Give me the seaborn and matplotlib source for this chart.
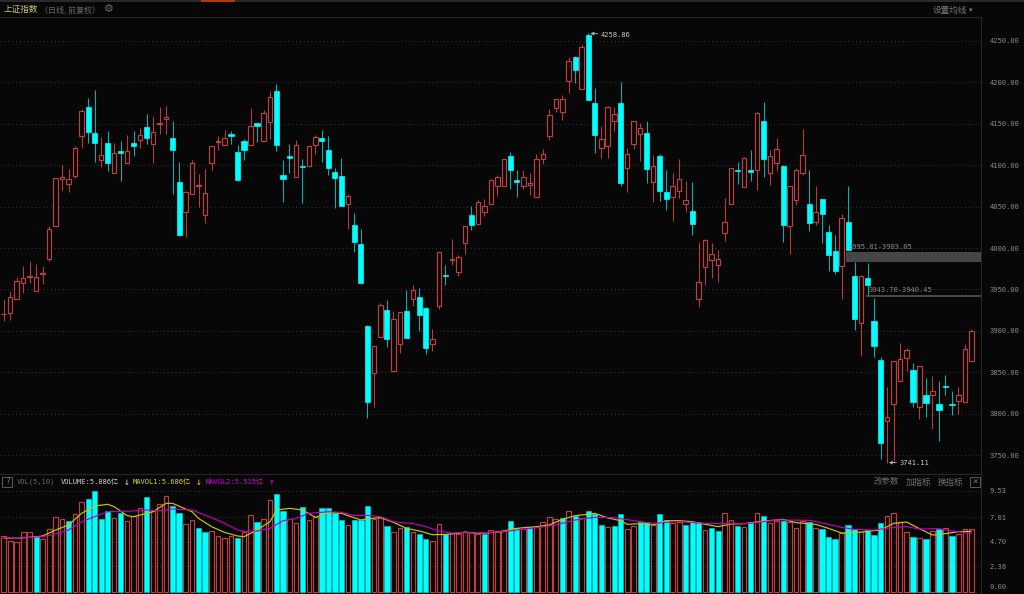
import numpy as np
import pandas as pd
import seaborn as sns
import matplotlib.pyplot as plt
from matplotlib.patches import Rectangle
from matplotlib.transforms import ScaledTranslation

# Daily candles
opens = [3920, 3921.4, 3938, 3958, 3965, 3948, 3968.5, 3987, 4027, 4083,
         4077.5, 4087, 4135, 4170, 4139, 4106, 4127, 4090.4, 4116.5, 4103,
         4126.6, 4130, 4145.5, 4125.4, 4150, 4156, 4132.6, 4079.5, 4043.4, 4064.7,
         4075, 4040, 4103, 4128, 4124, 4137.4, 4116, 4129, 4123.8, 4151,
         4129, 4152, 4189.7, 4088, 4110.5, 4086, 4099.5, 4099, 4123.8, 4133,
         4117.7, 4092, 4086.3, 4053, 4028, 4004.4, 3905.4, 3849.5, 3892.6, 3925,
         3852, 3883.7, 3924.3, 3939, 3941, 3927.6, 3883.7, 3929.6, 3968, 3985.5,
         3970.6, 4006.4, 4039.5, 4029.5, 4043, 4053, 4075.4, 4074.6, 4111.3, 4082,
         4074.6, 4076, 4061.3, 4107.7, 4135.5, 4169, 4164, 4201.6, 4230, 4192,
         4256.9, 4174.6, 4120.6, 4123, 4152.8, 4174.6, 4096.4, 4126, 4137.5, 4139,
         4079.9, 4111, 4067.8, 4061.3, 4069, 4053, 4045, 3938.8, 3977.7, 3985,
         3979.7, 4017.9, 4052.8, 4094.2, 4073.7, 4094, 4093.8, 4153.6, 4090, 4102.6,
         4099, 4026.3, 4057.6, 4090, 4053.6, 4031, 4059, 4019.5, 3996.6, 3978,
         4031.5, 3965.8, 3909.4, 3963.4, 3911.8, 3865, 3791, 3811.6, 3839.4, 3867,
         3853, 3808.8, 3822.9, 3822.9, 3812, 3833.6, 3811.6, 3816, 3814.4, 3864]
closes = [3921, 3941, 3960, 3964, 3966, 3965.5, 3969.5, 4023, 4084, 4086,
          4083, 4121, 4165.6, 4140, 4127, 4112.5, 4102.5, 4114.5, 4114.5, 4117,
          4123.4, 4136.6, 4133, 4140, 4151, 4158.3, 4118.5, 4015.6, 4068, 4103,
          4076, 4066, 4123.4, 4129, 4132.6, 4135, 4082.4, 4118.5, 4147.5, 4147.5,
          4163, 4182.5, 4123.8, 4083.6, 4109, 4124.6, 4097.5, 4123.4, 4133.4, 4129.4,
          4096.4, 4085, 4050.4, 4063, 4007.3, 3957.7, 3813.7, 3881.7, 3931.6, 3889.7,
          3914, 3923, 3892, 3949, 3919, 3880, 3890, 3994.8, 3966, 3986.5,
          3989, 4026.6, 4028, 4055.7, 4051, 4082, 4086, 4107, 4094, 4080,
          4086, 4078.6, 4107.7, 4113, 4161, 4180, 4180, 4225.8, 4215.3, 4243,
          4179, 4136.7, 4132, 4170, 4162, 4078, 4113, 4153, 4145, 4094.8,
          4099, 4068.6, 4059, 4075, 4083.5, 4058, 4028.7, 3959, 4010, 3993,
          3987, 4031.5, 4096.6, 4092.6, 4108.6, 4091.4, 4162.9, 4107.4, 4111, 4120,
          4028, 4074.5, 4094.6, 4112.6, 4030, 4043.6, 4041.6, 3991.4, 3971.7, 4036.7,
          3997.4, 3914, 3966.6, 3956, 3882.4, 3764.9, 3796, 3864.3, 3866.7, 3876.8,
          3814.4, 3858, 3813.6, 3828, 3805, 3832.4, 3810.4, 3822.5, 3878, 3899.8]
highs = [3938.5, 3948, 3965, 3978, 3984, 3981, 3978, 4026, 4084, 4100,
         4095, 4122.6, 4168, 4180.5, 4191, 4133.4, 4140.7, 4127, 4129.4, 4136,
         4141.5, 4144.7, 4161.6, 4159, 4170.4, 4171, 4153, 4103.7, 4069, 4105.7,
         4089, 4095, 4123.4, 4135.4, 4142.7, 4141.5, 4124.6, 4132, 4168.4, 4151,
         4166.8, 4189, 4197.3, 4106, 4125.8, 4130, 4107, 4123.4, 4136, 4142,
         4134.6, 4096.8, 4109, 4065.7, 4042.4, 4023, 3907, 3881.7, 3933.6, 3937,
         3924.3, 3923, 3949.7, 3955.7, 3952, 3929, 3902.6, 3995, 3980, 4011,
         3992, 4026.6, 4050.8, 4058, 4059, 4083.5, 4088, 4107, 4115.3, 4093.6,
         4093.6, 4090.7, 4113, 4119, 4167.3, 4180, 4184.3, 4230, 4231.5, 4246,
         4258.86, 4192.7, 4146.8, 4171, 4170.6, 4200.4, 4120.6, 4153, 4150.4, 4153.6,
         4111.7, 4113, 4093.6, 4090, 4107.7, 4081.3, 4079.3, 4007.4, 4011, 4006,
         3997.8, 4060.8, 4096.6, 4104, 4109.4, 4118, 4164.5, 4176, 4118.3, 4133,
         4100, 4075, 4097, 4143.6, 4094, 4074.5, 4059, 4028.3, 4016, 4041,
         4075.3, 3983, 3966.9, 3982.5, 3940, 3869, 3832, 3864.3, 3885, 3879,
         3861, 3858, 3843.8, 3845.8, 3839.4, 3847, 3827, 3832, 3884, 3902]
lows = [3912, 3913.5, 3938, 3946, 3958, 3948, 3957, 3984, 4027, 4070,
        4068, 4084, 4120.6, 4127, 4104, 4097.6, 4093, 4090.4, 4080.8, 4103,
        4110.5, 4120.6, 4125, 4102.5, 4138, 4138, 4065, 4014, 4013, 4064.7,
        4049.4, 4030.5, 4094, 4118, 4124, 4125, 4080.8, 4105.7, 4123.8, 4127.4,
        4129, 4132, 4116.5, 4056, 4091, 4086, 4053.8, 4099, 4113, 4104,
        4088, 4048, 4050.4, 4023.4, 3994.8, 3956.5, 3794.4, 3808, 3892.6, 3881,
        3852, 3873, 3892, 3930.4, 3900, 3871.6, 3875.6, 3926.8, 3955.7, 3980,
        3965.8, 3992.4, 4021.4, 4029.5, 4038.3, 4053, 4062.5, 4074.6, 4071.4, 4061.7,
        4071, 4063.7, 4061.3, 4100.8, 4130, 4164, 4155, 4187, 4199.6, 4192,
        4179, 4114.5, 4109, 4109, 4140.7, 4074.6, 4067.8, 4120, 4104.4, 4078.2,
        4056, 4057, 4046.4, 4032.7, 4060.5, 4044, 4015.9, 3928.3, 3956, 3963.6,
        3958.8, 4009, 4052.8, 4077.7, 4073.3, 4080.5, 4070.5, 4085.3, 4076.5, 4093.4,
        4007.8, 3992.6, 4052.4, 4088, 4020, 4027.5, 4005.8, 3972, 3968.5, 3939,
        3997.4, 3901.4, 3869.6, 3943.6, 3868, 3745, 3741.11, 3743, 3839.4, 3852,
        3808.8, 3794, 3796.7, 3782, 3767.3, 3822.5, 3798, 3800, 3814.4, 3864]

# Volume in 亿, with the bars that are drawn solid cyan
volume = [5.22, 4.82, 4.69, 5.60, 5.67, 5.22, 4.94, 5.95, 7.02, 6.83,
          6.70, 7.30, 8.44, 8.72, 9.51, 6.83, 7.65, 6.92, 7.40, 6.70,
          7.11, 7.87, 8.91, 7.65, 8.25, 9.07, 8.09, 7.40, 6.36, 6.77,
          5.98, 5.60, 5.70, 5.22, 5.07, 5.29, 5.07, 5.63, 7.24, 6.55,
          6.83, 8.62, 9.25, 7.65, 6.89, 6.52, 7.96, 6.77, 7.05, 7.93,
          7.93, 7.40, 6.77, 6.26, 6.74, 6.74, 8.06, 6.83, 7.02, 6.20,
          5.63, 5.98, 6.11, 5.63, 5.45, 4.94, 4.75, 6.42, 5.41, 5.51,
          5.41, 5.67, 5.67, 5.45, 5.48, 5.85, 5.76, 5.82, 6.70, 6.01,
          5.89, 6.07, 6.14, 6.55, 7.02, 6.83, 6.96, 7.65, 7.11, 6.99,
          7.65, 7.37, 6.30, 6.14, 6.23, 7.30, 5.89, 6.17, 6.61, 6.61,
          6.30, 7.30, 6.77, 6.45, 6.55, 6.30, 6.61, 6.61, 5.79, 6.01,
          5.73, 7.46, 6.77, 6.20, 6.07, 6.61, 7.46, 7.15, 6.45, 6.70,
          6.67, 6.55, 5.98, 6.70, 6.55, 6.04, 5.95, 5.19, 4.97, 5.51,
          6.33, 5.89, 5.67, 5.79, 5.38, 6.52, 7.11, 7.40, 6.60, 5.63,
          5.13, 5.04, 4.97, 5.70, 5.92, 5.98, 5.29, 5.45, 5.89, 5.89]
vol_down = [5, 10, 13, 14, 15, 16, 18, 22, 26, 27, 30, 31, 36, 39, 42, 43, 46, 49, 50, 51, 52,
            54, 55, 56, 59, 62, 64, 65, 68, 74, 78, 79, 81, 86, 88, 90, 91, 92, 94, 95, 98, 99, 101, 102,
            105, 106, 107, 109, 110, 113, 115, 117, 120, 124, 126, 127, 128, 130, 131, 133, 134, 135,
            140, 142, 144, 146]

# Moving average lines read at the bars where they bend
ma1_days = [0, 2, 5, 6, 8, 10, 12, 14, 16, 17, 19, 20, 21, 23, 25, 26, 28, 29, 30, 32,
            34, 36, 37, 39, 41, 42, 44, 46, 48, 50, 52, 53, 55, 56, 58, 60, 62, 64, 66, 68,
            70, 71, 73, 75, 77, 78, 80, 82, 84, 86, 88, 90, 91, 93, 95, 96, 98, 100, 102, 104,
            106, 108, 110, 112, 114, 117, 120, 122, 125, 127, 129, 132, 135, 137, 139, 141, 143, 145, 147, 149]
ma1 = [5.07, 5.04, 5.19, 5.26, 5.82, 6.30, 7.40, 8.09, 8.25, 8.03, 7.18, 7.08, 7.24, 7.55, 8.34, 8.34, 7.81, 7.55, 6.92, 6.14,
       5.60, 5.26, 5.19, 5.82, 6.61, 7.71, 7.87, 7.71, 7.02, 7.49, 7.40, 7.18, 6.77, 6.89, 6.99, 6.55, 5.98, 5.73, 5.38, 5.41,
       5.51, 5.63, 5.51, 5.57, 5.67, 5.92, 6.04, 6.14, 6.30, 6.83, 7.18, 7.30, 7.40, 6.96, 6.70, 6.36, 6.42, 6.30, 6.70, 6.70,
       6.61, 6.36, 6.14, 6.39, 6.42, 6.67, 6.83, 6.52, 6.36, 5.98, 5.54, 5.63, 5.82, 6.45, 6.58, 5.95, 5.35, 5.48, 5.67, 5.70]
ma2_days = [0, 2, 6, 8, 10, 12, 14, 16, 19, 22, 24, 26, 29, 32, 34, 36, 37, 39, 41, 43,
            45, 47, 50, 52, 54, 56, 58, 60, 63, 65, 67, 69, 71, 73, 76, 79, 82, 85, 88, 91,
            94, 97, 100, 102, 104, 108, 112, 115, 119, 124, 127, 129, 131, 134, 137, 139, 141, 144, 146, 149]
ma2 = [5.10, 5.04, 5.19, 5.45, 5.82, 6.61, 7.08, 7.55, 7.59, 7.71, 7.65, 7.81, 7.71, 6.99, 6.45, 5.82, 5.70, 5.73, 5.98, 6.70,
       6.92, 7.40, 7.55, 7.49, 7.18, 7.21, 7.08, 6.61, 6.42, 6.14, 5.73, 5.54, 5.57, 5.54, 5.63, 5.82, 6.04, 6.30, 6.77, 7.02,
       6.99, 6.70, 6.45, 6.55, 6.61, 6.45, 6.42, 6.45, 6.77, 6.74, 6.36, 6.07, 5.89, 5.82, 6.07, 6.14, 5.92, 5.95, 5.73, 5.51]

price_ticks = [4250, 4200, 4150, 4100, 4050, 4000, 3950, 3900, 3850, 3800, 3750]
vol_ticks = [9.53, 7.01, 4.70, 2.38, 0.00]
gaps = [(130, 3995.81, 3983.05), (133, 3943.70, 3940.45)]

BG = '#070707'
RED = '#bf3f3f'
CYAN = '#00ffff'
MONO = ['DejaVu Sans Mono', 'Noto Sans CJK SC']
CJK = ['Noto Sans CJK SC', 'DejaVu Sans']
NUM = 5.1

sns.set_theme(style='dark', rc={'figure.facecolor': BG, 'axes.facecolor': BG, 'axes.edgecolor': '#262626',
                                'axes.linewidth': 0.8, 'text.color': '#8a8a8a', 'ytick.color': '#8a8a8a'})
plt.rcParams['font.family'] = MONO

W, H = 1024, 594
fig = plt.figure(figsize=(W / 100, H / 100), dpi=100)
ax = fig.add_axes([0, 1 - 474 / H, 981 / W, 457 / H])
ax2 = fig.add_axes([0, 0, 981 / W, 120 / H])

df = pd.DataFrame({'day': np.arange(len(opens)), 'open': opens, 'close': closes,
                   'high': highs, 'low': lows, 'vol': volume})
df['up'] = df['close'] >= df['open']
df['vol_solid'] = df['day'].isin(vol_down)

# Candles
for up, color, wick in [(True, RED, '#b83c3c'), (False, CYAN, '#00b4b4')]:
    part = df[df['up'] == up]
    ax.vlines(part['day'], part['low'], part['high'], color=wick, lw=0.75, zorder=2)
    bottom = part[['open', 'close']].min(axis=1)
    height = (part['close'] - part['open']).abs()
    if up:
        ax.bar(part['day'], height, bottom=bottom, width=0.7, facecolor=BG, edgecolor=color, lw=0.85, zorder=3)
    else:
        ax.bar(part['day'], height, bottom=bottom, width=0.78, facecolor=color, edgecolor=color, lw=0.5, zorder=3)

# Unfilled gaps
for start, top, bot in gaps:
    ax.add_patch(Rectangle((start - 0.3, bot), 151 - start, top - bot, color='#464646', lw=0, zorder=1))
    ax.text(start + 0.15, top + 1.5, f'{top:.2f}-{bot:.2f}', fontsize=NUM, color='#8a8a8a', va='bottom', zorder=5)

ax.annotate('4258.86', xy=(90.35, 4258.86), xytext=(7.5, -1), textcoords='offset points', fontsize=NUM,
            color='#c8c8c8', va='center', arrowprops=dict(arrowstyle='->', color='#c8c8c8', lw=0.6, shrinkA=0, shrinkB=0))
ax.annotate('3741.11', xy=(136.3, 3741.11), xytext=(7.5, 0), textcoords='offset points', fontsize=NUM,
            color='#c8c8c8', va='center', arrowprops=dict(arrowstyle='->', color='#c8c8c8', lw=0.6, shrinkA=0, shrinkB=0))

ax.set_xlim(-0.57, 150.47)
ax.set_ylim(3727.4, 4278.7)
ax.set_yticks(price_ticks)
ax.set_yticklabels([f'{t:.2f}' for t in price_ticks], fontsize=NUM)

# Volume panel
sns.barplot(data=df[df['vol_solid']], x='day', y='vol', native_scale=True, orient='x', color=CYAN, saturation=1,
            width=0.8, errorbar=None, linewidth=0.4, edgecolor='#00d8d8', ax=ax2, zorder=2)
sns.barplot(data=df[~df['vol_solid']], x='day', y='vol', native_scale=True, orient='x', color=RED, saturation=1,
            width=0.72, errorbar=None, fill=False, linewidth=0.85, ax=ax2, zorder=2)
sns.lineplot(x=ma1_days, y=ma1, color='#c8c800', lw=0.85, errorbar=None, ax=ax2, zorder=4)
sns.lineplot(x=ma2_days, y=ma2, color='#c000c0', lw=0.85, errorbar=None, ax=ax2, zorder=4)

ax2.set_xlim(-0.57, 150.47)
ax2.set_ylim(-0.217, 11.11)
ax2.set_yticks(vol_ticks)
ax2.set_yticklabels([f'{t:.2f}' for t in vol_ticks], fontsize=NUM)
ax2.set_xlabel('')
ax2.set_ylabel('')

for a in (ax, ax2):
    a.set_xticks([])
    a.yaxis.tick_right()
    a.tick_params(axis='y', length=0, pad=6, labelcolor='#8a8a8a')
    a.grid(axis='y', color='#383838', lw=0.7, linestyle=(0, (1, 3)), zorder=0)
    a.set_axisbelow(True)
    for side in ('left', 'bottom'):
        a.spines[side].set_visible(False)

# the 0.00 label sits a little above its level so it is not cut by the window edge
zero_label = ax2.get_yticklabels()[-1]
zero_label.set_transform(zero_label.get_transform() + ScaledTranslation(0, 5.5 / 100, fig.dpi_scale_trans))


def px_text(x, y, s, color='#8a8a8a', size=NUM, family=MONO, ha='left'):
    fig.text(x / W, 1 - y / H, s, color=color, fontsize=size, family=family, ha=ha, va='center')


# Header row
px_text(4, 9.5, '上证指数', color='#c8c87a', size=6.2, family=CJK)
px_text(40, 9.5, '（日线, 前复权）', color='#6a6a6a', size=5.8, family=CJK)
px_text(104, 9.5, '⚙', color='#6a6a6a', size=8, family=['DejaVu Sans'])
px_text(933, 10, '设置均线', color='#7a7a7a', size=6.2, family=CJK)
px_text(969, 10, '▾', color='#7a7a7a', size=5, family=['DejaVu Sans'])

# Volume row
fig.add_artist(Rectangle((2 / W, 1 - 487 / H), 10 / W, 10 / H, transform=fig.transFigure,
                         facecolor='none', edgecolor='#5a5a5a', lw=0.7))
px_text(7, 482, '?', color='#7a7a7a', size=5.6, ha='center')
px_text(17, 482, 'VOL(5,10)', color='#6a6a6a')
px_text(61, 482, 'VOLUME:5.886亿', color='#d0d0d0')
px_text(127, 482, '↓', color='#d0d0d0', size=7, ha='center')
px_text(133, 482, 'MAVOL1:5.686亿', color='#d8d800')
px_text(199, 482, '↓', color='#d8d800', size=7, ha='center')
px_text(206, 482, 'MAVOL2:5.515亿', color='#e000e0')
px_text(272, 482, '↑', color='#e000e0', size=7, ha='center')
px_text(874, 482, '改参数', color='#6e6e6e', size=6.1, family=CJK)
px_text(906, 482, '加指标', color='#6e6e6e', size=6.1, family=CJK)
px_text(938, 482, '换指标', color='#6e6e6e', size=6.1, family=CJK)
fig.add_artist(Rectangle((970 / W, 1 - 487 / H), 10 / W, 10 / H, transform=fig.transFigure,
                         facecolor='none', edgecolor='#5a5a5a', lw=0.7))
px_text(975, 482, '×', color='#7a7a7a', size=6.5, ha='center')

# Top strip and orange tab
fig.add_artist(Rectangle((0, 1 - 1.5 / H), 1, 1.5 / H, transform=fig.transFigure, facecolor='#2a2a2a', lw=0))
fig.add_artist(Rectangle((201 / W, 1 - 1.5 / H), 34 / W, 1.5 / H, transform=fig.transFigure, facecolor='#b03a10', lw=0))

fig.savefig('out.png', dpi=100, facecolor=BG)
